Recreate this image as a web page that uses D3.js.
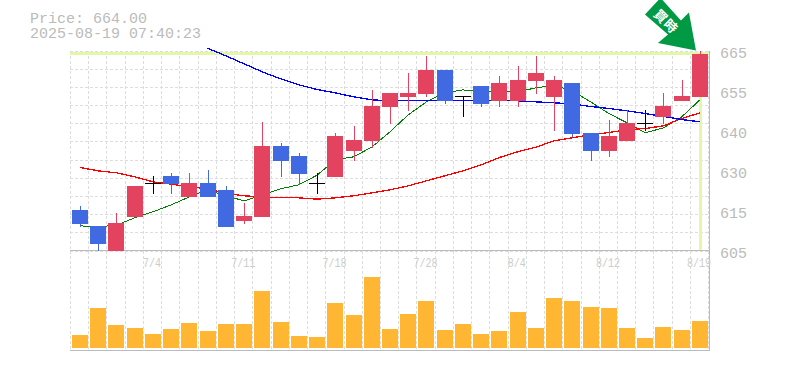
<!DOCTYPE html>
<html>
<head>
<meta charset="utf-8">
<script src="https://d3js.org/d3.v7.min.js"></script>
<style>
  html, body { margin: 0; padding: 0; background: #fff; overflow: hidden; }
  svg { display: block; }
  text { font-family: "Liberation Mono", monospace; fill: #bbb; }
</style>
</head>
<body>
<script>
// data
const priceNow = "664.00";
const stamp = "2025-08-19 07:40:23";

const opens = [617.2,612.3,605,615,625.2,627.4,621,625.2,623.2,613.9,615,636.4,633.4,625.2,627.1,634.9,637.9,648,651,652,659.2,651.3,654.4,649.9,649.9,655.9,651,655.3,640.3,634.9,637.9,643.3,645,649.9,651];
const closes = [612.9,607,613.2,624.4,625.2,625,625.2,621,612.1,615.4,636.4,631.9,627.9,625.2,639.4,638.2,648.4,652.2,652.2,659.2,649.9,651.3,649,655.3,656.2,658.3,656.2,639.9,634.9,639.4,643.3,643.3,648.4,651.4,664];
const highs = [618.4,612.3,616.2,624.4,627.4,628.2,628.2,629.2,624.4,619.3,643.6,637.3,634.3,628.2,640.3,642.4,653.2,652.2,658.3,663.4,659.2,651.3,654.4,657.4,660.4,663.4,657.4,655.3,640.3,644.2,647.2,647.2,652.2,656.2,665];
const lows = [612.1,605,605,615,622,622,621,621,612.1,612.9,615,627.1,624.7,622,627.1,631.9,635.8,643,646.9,651,649,645,648,648,648,652,640.9,639,631.9,633,637.9,640.9,643,649.9,651];

const volumes = [13,40,23,20,14,19,25,17,24,24,57,26,12,11,45,33,71,19,34,47,18,24,14,17,36,20,50,47,41,40,20,10,21,18,27];

const maGreen = [612.4,612.1,612.6,614.8,616.6,618.7,621.1,623.2,621.4,619.9,621.7,623.5,624.7,627.6,632.2,633.1,636,640.6,645.7,649.6,652.3,653.2,652.6,652.6,652.6,653.8,654.5,652.9,649.6,646.1,643.3,640.3,641.8,645.1,650.2];
const maRed = [629.9,628.9,628.3,627.1,625.6,624.9,624.1,623.5,622.2,621.4,621.1,620.8,620.8,620.4,620.8,621.4,622.3,623.2,624.4,625.9,627.4,628.9,630.7,632.9,634.6,636,637.9,638.8,639.7,640.4,641.2,641.6,642.4,644.6,646.3];
const maBlue = [null,null,null,null,null,null,null,665.7,663.4,661,658.6,656.5,654.7,653.3,652.3,651.1,650.2,649.9,649.9,649.9,649.9,649.9,649.9,649.9,649.9,649.6,649.3,649,648.2,647.6,646.9,646.1,645.2,644.3,643.6];

const priceTicks = [665,653,641,629,617,605];
const priceLabels = ["665","655","640","630","615","605"];
const dateTicks = [4,9,14,19,24,29,34];
const dateLabels = ["7/4","7/11","7/18","7/28","8/4","8/12","8/19"];

const width = 785, height = 370;
const plotLeft = 70, plotRight = 710, plotTop = 50.5, plotMid = 250.5, plotBottom = 350;

const svg = d3.select("body").append("svg")
    .attr("width", width)
    .attr("height", height)
    .attr("viewBox", `0 0 ${width} ${height}`);

// scales
const days = d3.range(opens.length);
const x = d3.scaleBand().domain(days).range([plotLeft, 708.2]);
const y = d3.scaleLinear().domain([605, 665]).range([plotMid, plotTop]);
const v = d3.scaleLinear().domain([0, 80]).range([348, 268]);
const cx = i => x(i) + 10;

// grid
const grid = svg.append("g")
    .attr("stroke", "#ddd")
    .attr("stroke-dasharray", "3,2")
    .attr("shape-rendering", "crispEdges");

grid.selectAll(".gv")
    .data(days.concat([35]))
    .enter().append("line")
    .attr("x1", i => Math.round(i < 35 ? x(i) : 708.2) + 0.5)
    .attr("x2", i => Math.round(i < 35 ? x(i) : 708.2) + 0.5)
    .attr("y1", plotTop)
    .attr("y2", plotBottom);

grid.selectAll(".gh")
    .data(d3.range(12))
    .enter().append("line")
    .attr("x1", plotLeft)
    .attr("x2", plotRight)
    .attr("y1", k => Math.round(y(665 - k * 60 / 11)) + 0.5)
    .attr("y2", k => Math.round(y(665 - k * 60 / 11)) + 0.5);

// current price cross
const last = days.length - 1;
svg.append("line")
    .attr("x1", plotLeft).attr("x2", plotRight)
    .attr("y1", y(closes[last])).attr("y2", y(closes[last]))
    .attr("stroke", "#e4f6a8").attr("stroke-width", 3)
    .attr("shape-rendering", "crispEdges");
svg.append("line")
    .attr("x1", cx(last) + 0.5).attr("x2", cx(last) + 0.5)
    .attr("y1", y(closes[last])).attr("y2", plotMid)
    .attr("stroke", "#e4f6a8").attr("stroke-width", 3)
    .attr("shape-rendering", "crispEdges");

// frame
const frame = svg.append("g").attr("stroke", "#bbb").attr("shape-rendering", "crispEdges");
frame.append("line").attr("x1", plotLeft).attr("x2", plotRight).attr("y1", plotMid).attr("y2", plotMid);
frame.append("line").attr("x1", plotLeft).attr("x2", plotRight).attr("y1", plotBottom).attr("y2", plotBottom);
frame.append("line").attr("x1", plotRight - 0.5).attr("x2", plotRight - 0.5).attr("y1", plotTop).attr("y2", plotBottom);

// moving averages
const line = d3.line()
    .defined(d => d != null)
    .x((d, i) => cx(i))
    .y(d => y(d));

[[maGreen, "#008000", 1], [maRed, "#f00", 1.3], [maBlue, "#00f", 1.3]].forEach(([values, color, w]) => {
    svg.append("path")
        .datum(values)
        .attr("fill", "none")
        .attr("stroke", color)
        .attr("stroke-width", w)
        .attr("shape-rendering", "crispEdges")
        .attr("d", line);
});

// candles
const candleColor = i => closes[i] > opens[i] ? "#e44360" : closes[i] < opens[i] ? "#4169e1" : "#000";

const candles = svg.append("g").attr("shape-rendering", "crispEdges");

candles.selectAll(".wick")
    .data(days)
    .enter().append("line")
    .attr("x1", i => Math.round(cx(i)) + 0.5)
    .attr("x2", i => Math.round(cx(i)) + 0.5)
    .attr("y1", i => y(highs[i]))
    .attr("y2", i => y(lows[i]))
    .attr("stroke", candleColor);

candles.selectAll(".body")
    .data(days)
    .enter().append("rect")
    .attr("x", i => x(i) + 2)
    .attr("y", i => y(Math.max(opens[i], closes[i])))
    .attr("width", 16)
    .attr("height", i => Math.max(1, Math.abs(y(opens[i]) - y(closes[i]))))
    .attr("fill", candleColor);

// volume
svg.append("g").selectAll("rect")
    .data(days)
    .enter().append("rect")
    .attr("x", i => x(i) + 2)
    .attr("y", i => v(volumes[i]))
    .attr("width", 16)
    .attr("height", i => v(0) - v(volumes[i]))
    .attr("fill", "#ffb733")
    .attr("shape-rendering", "crispEdges");

// axes
const yAxis = svg.append("g")
    .attr("transform", `translate(${plotRight},0)`)
    .call(d3.axisRight(y).tickValues(priceTicks).tickSize(0).tickPadding(10)
        .tickFormat((d, i) => priceLabels[i]));
yAxis.select(".domain").remove();
yAxis.selectAll("text")
    .attr("dy", "0.45em")
    .style("font-size", "15px")
    .style("font-family", '"Liberation Mono", monospace')
    .style("fill", "#bbb");

const xAxis = svg.append("g")
    .attr("transform", `translate(0,${plotMid})`)
    .call(d3.axisBottom(x).tickValues(dateTicks).tickSize(0).tickPadding(7)
        .tickFormat((d, i) => dateLabels[i]));
xAxis.select(".domain").remove();
// the date labels are tall and narrow in the original
xAxis.selectAll("text")
    .attr("transform", "scale(0.74,1)")
    .style("font-size", "13.5px")
    .style("font-family", '"Liberation Mono", monospace')
    .style("fill", "#ccc");

// header
svg.append("text").attr("x", 30).attr("y", 23).style("font-size", "15px").text("Price: " + priceNow);
svg.append("text").attr("x", 30).attr("y", 38).style("font-size", "15px").text(stamp);

// signal arrow, placed from the last candle
const tipX = x(last) + 6, tipY = y(665);
const arrowShape = [[0,0],[-7,-38],[-15,-30],[-34,-51],[-37,-51],[-51,-36],[-28,-16],[-38,-7.5]];
svg.append("path")
    .attr("d", d3.line()(arrowShape.map(p => [tipX + p[0], tipY + p[1]])) + "Z")
    .attr("fill", "#009944");
svg.append("text")
    .attr("transform", `translate(${tipX - 30},${tipY - 29}) rotate(45)`)
    .attr("text-anchor", "middle")
    .attr("dy", "0.36em")
    .style("font-family", '"Noto Sans CJK JP"')
    .style("font-weight", "700")
    .style("font-size", "13px")
    .style("letter-spacing", "1px")
    .style("fill", "#fff")
    .text("買時");
</script>
</body>
</html>
